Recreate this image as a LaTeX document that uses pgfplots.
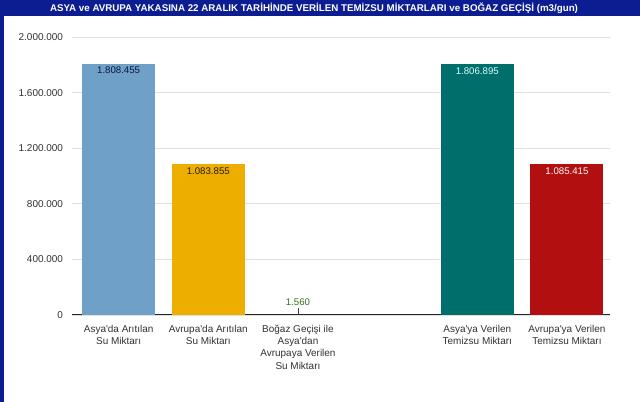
\documentclass[border=0pt]{standalone}
\usepackage{fontspec}
\setmainfont{Liberation Sans}
\usepackage{pgfplots}
\pgfplotsset{compat=1.18}
\definecolor{titleblue}{RGB}{12,28,145}
\definecolor{cA}{RGB}{110,160,200}
\definecolor{cB}{RGB}{238,174,0}
\definecolor{cC}{RGB}{0,110,106}
\definecolor{cD}{RGB}{178,16,16}
\definecolor{gridgray}{RGB}{224,224,224}
\definecolor{txt}{RGB}{50,50,50}
\begin{document}
\begin{tikzpicture}
\useasboundingbox (0,0) rectangle (640bp,402bp);
\fill[white] (0,0) rectangle (640bp,402bp);
\fill[titleblue] (0,386bp) rectangle (640bp,402bp);
\fill[titleblue] (0,0) rectangle (4bp,402bp);
\node[text=white, font=\bfseries\fontsize{9.8}{11}\selectfont, inner sep=0pt] at (314bp,394bp) {ASYA ve AVRUPA YAKASINA 22 ARALIK TARİHİNDE VERİLEN TEMİZSU MİKTARLARI ve BOĞAZ GEÇİŞİ (m3/gun)};
\begin{axis}[
  at={(72bp,87bp)}, anchor=south west,
  scale only axis, width=538bp, height=278bp,
  xmin=-0.52, xmax=5.48, ymin=0, ymax=2000000,
  scaled y ticks=false,
  axis line style={draw=none},
  ybar, bar width=73bp, bar shift=0pt,
  ymajorgrids, grid style={color=gridgray, line width=0.6bp},
  ytick={0,400000,800000,1200000,1600000,2000000},
  yticklabels={0,400.000,800.000,1.200.000,1.600.000,2.000.000},
  yticklabel style={font=\fontsize{10}{12}\selectfont, text=txt, xshift=-5.5bp},
  ytick style={draw=none},
  extra y ticks={0}, extra y tick labels={},
  extra y tick style={grid=major, grid style={color=black!85, line width=1bp}, ytick style={draw=none}},
  xtick={0,1,2,4,5},
  xticklabels={{Asya\textquotesingle da Arıtılan\\Su Miktarı},{Avrupa\textquotesingle da Arıtılan\\Su Miktarı},{Boğaz Geçişi ile\\Asya\textquotesingle dan\\Avrupaya Verilen\\Su Miktarı},{Asya\textquotesingle ya Verilen\\Temizsu Miktarı},{Avrupa\textquotesingle ya Verilen\\Temizsu Miktarı}},
  xticklabel style={font=\fontsize{10}{12.2}\selectfont, text=txt, align=center, yshift=-2.5bp},
  xtick style={draw=none},
  xtick pos=bottom,
  extra x ticks={2}, extra x tick labels={},
  extra x tick style={tick align=inside, xtick style={draw=black!75, line width=0.8bp}, major tick length=6.5bp},
  point meta=explicit symbolic,
  nodes near coords,
  every node near coord/.append style={font=\fontsize{9.7}{11}\selectfont},
]
\addplot[fill=cA, draw=none, every node near coord/.append style={anchor=north, text={rgb,255:red,12;green,26;blue,60}}]
  coordinates {(0,1808455) [1.808.455]};
\addplot[fill=cB, draw=none, every node near coord/.append style={anchor=north, text={rgb,255:red,40;green,30;blue,0}}]
  coordinates {(1,1083855) [1.083.855]};
\addplot[fill={rgb,255:red,60;green,110;blue,20}, draw=none, bar width=1bp, every node near coord/.append style={anchor=south, yshift=5.5bp, text={rgb,255:red,60;green,110;blue,20}}]
  coordinates {(2,1560) [1.560]};
\addplot[fill=cC, draw=none, every node near coord/.append style={anchor=north, text={rgb,255:red,215;green,255;blue,255}}]
  coordinates {(4,1806895) [1.806.895]};
\addplot[fill=cD, draw=none, every node near coord/.append style={anchor=north, text=white}]
  coordinates {(5,1085415) [1.085.415]};
\end{axis}
\end{tikzpicture}
\end{document}
